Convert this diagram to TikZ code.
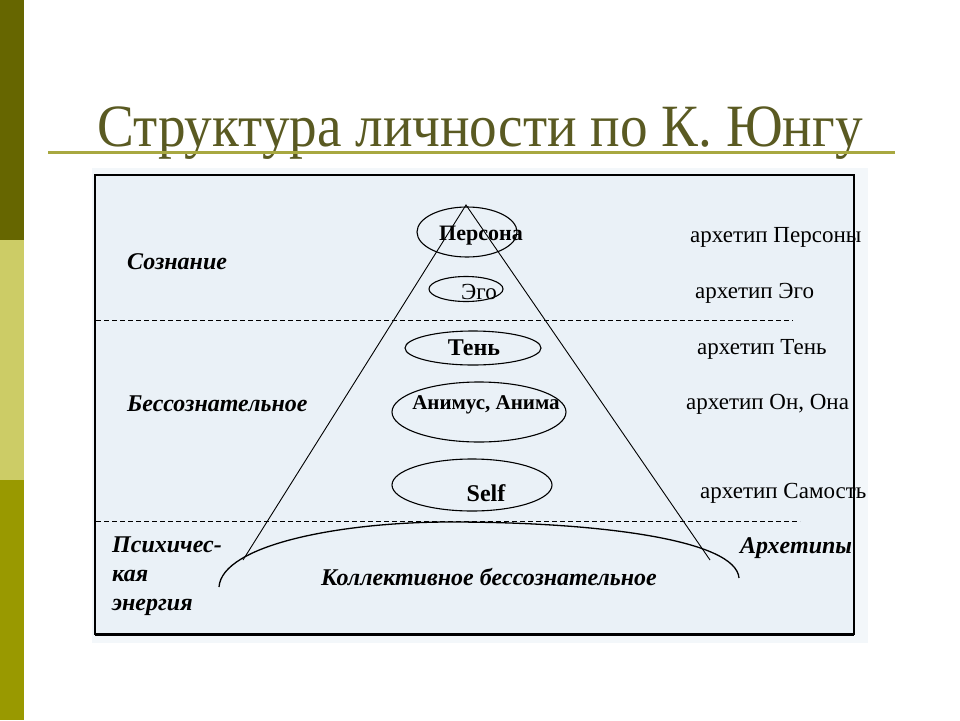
\documentclass[tikz,border=0pt]{standalone}
\usepackage{fontspec}
\setmainfont{Liberation Serif}
\usetikzlibrary{shapes.geometric}
\definecolor{barTop}{HTML}{666600}
\definecolor{barMid}{HTML}{CCCC66}
\definecolor{barLow}{HTML}{999900}
\definecolor{titleCol}{HTML}{5A5A22}
\definecolor{ruleCol}{HTML}{A8A840}
\definecolor{panelCol}{HTML}{EAF1F7}
\tikzset{
  zone/.style={font=\fontsize{24}{29}\selectfont\bfseries\itshape, anchor=west, align=left, inner sep=0pt},
  archetype/.style={font=\fontsize{23}{26}\selectfont, anchor=west, inner sep=0pt},
  oval/.style={ellipse, draw, line width=1.1pt, inner sep=0pt},
  ovaltext/.style={font=\fontsize{22}{26}\selectfont\bfseries},
}

\begin{document}
\begin{tikzpicture}[x=1pt, y=-1pt]
        \useasboundingbox (0,0) rectangle (960,720);
        \fill[white] (0,0) rectangle (960,720);

        % side bar
        \fill[barTop] (0,0) rectangle (24,240);
        \fill[barMid] (0,240) rectangle (24,480);
        \fill[barLow] (0,480) rectangle (24,720);

        % title
        \node[font=\fontsize{60}{66}\selectfont, text=titleCol, anchor=base] (title) at (480,146) {\scalebox{0.92}[1]{Структура личности по К. Юнгу}};
        \draw[ruleCol, line width=3pt] (48,152) -- (895,152);

        % panel
        \fill[panelCol!60!white] (92,168) rectangle (868,643);
        \draw[fill=panelCol, line width=1.2pt] (95,175) rectangle (854,634);
        \draw[line width=3pt] (95,634) -- (854,634);

        % levels
        \coordinate (d1a) at (96,320);
        \coordinate (d1b) at (793,320);
        \coordinate (d2a) at (96,521);
        \coordinate (d2b) at (800,521);
        \draw[dash pattern=on 5pt off 3pt, line width=1pt] (d1a) -- (d1b);
        \draw[dash pattern=on 5pt off 3pt, line width=1pt] (d2a) -- (d2b);

        % pyramid
        \coordinate (apex) at (466,205);
        \coordinate (baseL) at (243,560);
        \coordinate (baseR) at (710,560);
        \draw[line width=0.9pt] (baseL) -- (apex) -- (baseR);

        % ovals
        \node[oval, minimum width=100pt, minimum height=50pt] (persona) at (467,232) {};
        \node[oval, minimum width=74pt, minimum height=25pt] (ego) at (466,289) {};
        \node[oval, minimum width=136pt, minimum height=34pt] (shadow) at (473,348) {};
        \node[oval, minimum width=174pt, minimum height=60pt] (anima) at (479,412) {};
        \node[oval, minimum width=160pt, minimum height=52pt] (self) at (472,485) {};

        \node[ovaltext] (personaL) at (481,236) {Персона};
        \node[font=\fontsize{23}{26}\selectfont] (egoL) at (479,292) {Эго};
        \node[ovaltext, font=\fontsize{24}{26}\selectfont\bfseries] (shadowL) at (474,348) {Тень};
        \node[ovaltext, font=\fontsize{21}{26}\selectfont\bfseries] (animaL) at (486,405) {Анимус, Анима};
        \node[ovaltext, font=\fontsize{24}{26}\selectfont\bfseries] (selfL) at (486,493) {Self};

        % collective unconscious
        \coordinate (arcL) at (219,587);
        \coordinate (arcTop) at (450,522);
        \coordinate (arcR) at (739,578);
        \draw[line width=1.3pt] (arcL) .. controls (222,545) and (340,522) .. (arcTop)
          .. controls (600,522) and (736,540) .. (arcR);
        \node[font=\fontsize{24}{26}\selectfont\bfseries\itshape] (collL) at (489,577) {Коллективное бессознательное};

        % left labels
        \node[zone] (conscious) at (127,262) {Сознание};
        \node[zone] (unconscious) at (127,404) {Бессознательное};
        \node[zone] (energy) at (112,576) {Психичес-\\кая\\энергия};
        \node[zone] (archetypes) at (740,548) {Архетипы};

        % right labels
        \node[archetype] (aPersona) at (690,237) {архетип Персоны};
        \node[archetype] (aEgo) at (695,293) {архетип Эго};
        \node[archetype] (aShadow) at (697,349) {архетип Тень};
        \node[archetype] (aAnima) at (686,404) {архетип Он, Она};
        \node[archetype] (aSelf) at (700,493) {архетип Самость};
    \end{tikzpicture}
\end{document}
